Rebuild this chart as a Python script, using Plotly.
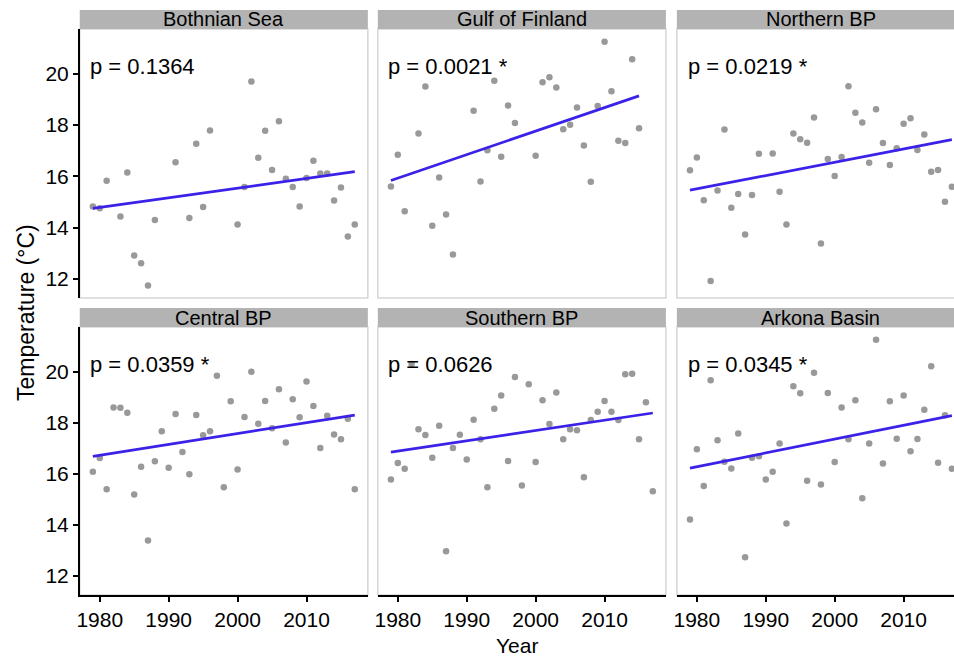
import plotly.graph_objects as go

W, H = 954, 659
FONT = "Liberation Sans, Arial, sans-serif"

YEARS = list(range(1979, 2018))

REGIONS = ["Bothnian Sea", "Gulf of Finland", "Northern BP",
           "Central BP", "Southern BP", "Arkona Basin"]

BOTHNIAN_SEA = [14.82, 14.75, 15.83, None, 14.43, 16.15, 12.91, 12.61, 11.74, 14.29,
                None, None, 16.55, None, 14.37, 17.27, 14.80, 17.79, None, None,
                None, 14.12, 15.58, 19.70, 16.72, 17.78, 16.25, 18.15, 15.90, 15.58,
                14.82, 15.93, 16.61, 16.11, 16.11, 15.06, 15.56, 13.65, 14.12]
GULF_OF_FINLAND = [15.60, 16.84, 14.64, None, 17.67, 19.51, 14.07, 15.95, 14.51, 12.95,
                   None, None, 18.56, 15.80, 17.02, 19.73, 16.76, 18.76, 18.08, None,
                   None, 16.80, 19.67, 19.87, 19.47, 17.84, 18.01, 18.69, 17.20, 15.79,
                   18.74, 21.25, 19.32, 17.39, 17.30, 20.57, 17.88, None, None]
NORTHERN_BP = [16.24, 16.73, 15.07, 11.91, 15.45, 17.83, 14.77, 15.31, 13.73, 15.27,
               16.88, None, 16.89, 15.40, 14.12, 17.67, 17.45, 17.31, 18.30, 13.38,
               16.68, 16.01, 16.75, 19.52, 18.48, 18.10, 16.53, 18.62, 17.30, 16.44,
               17.10, 18.05, 18.27, 17.03, 17.63, 16.18, 16.25, 15.01, 15.59]
CENTRAL_BP = [16.08, 16.62, 15.39, 18.60, 18.59, 18.39, 15.19, 16.27, 13.39, 16.49,
              17.67, 16.24, 18.34, 16.85, 15.98, 18.30, 17.51, 17.67, 19.84, 15.47,
              18.84, 16.17, 18.22, 20.00, 17.96, 18.85, 17.78, 19.31, 17.22, 18.92,
              18.21, 19.61, 18.65, 17.01, 18.27, 17.54, 17.35, 18.16, 15.39]
SOUTHERN_BP = [15.78, 16.42, 16.20, 20.30, 17.74, 17.52, 16.63, 17.88, 12.96, 17.01,
               17.53, 16.56, 18.12, 17.35, 15.47, 18.55, 19.07, 16.50, 19.79, 15.54,
               19.51, 16.46, 18.88, 17.95, 19.18, 17.35, 17.74, 17.70, 15.86, 18.11,
               18.43, 18.85, 18.43, 18.11, 19.90, 19.92, 17.35, 18.80, 15.31]
ARKONA_BASIN = [14.21, 16.96, 15.52, 19.66, 17.31, 16.47, 16.21, 17.58, 12.73, 16.63,
                16.69, 15.78, 16.08, 17.19, 14.05, 19.43, 19.15, 15.73, 19.96, 15.58,
                19.16, 16.46, 18.60, 17.35, 18.88, 15.04, 17.19, 21.25, 16.40, 18.84,
                17.37, 19.07, 16.88, 17.36, 18.51, 20.21, 16.43, 18.29, 16.20]

SERIES = [BOTHNIAN_SEA, GULF_OF_FINLAND, NORTHERN_BP, CENTRAL_BP, SOUTHERN_BP, ARKONA_BASIN]

P_LABELS = ["p = 0.1364", "p = 0.0021 *", "p = 0.0219 *",
            "p = 0.0359 *", "p = 0.0626", "p = 0.0345 *"]

TREND_YEARS = [[1979, 2017], [1979, 2015], [1979, 2017],
               [1979, 2017], [1979, 2017], [1979, 2017]]
TREND_VALUES = [[14.75, 16.18], [15.84, 19.14], [15.46, 17.43],
                [16.68, 18.30], [16.85, 18.38], [16.22, 18.28]]

Y_TICKS = [12, 14, 16, 18, 20]
X_TICKS = [1980, 1990, 2000, 2010]

# layout geometry (pixels in the 954x659 window)
COLS_PX = [(77, 366), (376, 665), (676, 965)]
ROWS_PX = [(29, 298), (327, 595)]
STRIPS_PX = [(10, 29), (308, 327)]
X_RANGE = [1977.1, 2018.9]
Y_RANGE = [11.25, 21.75]


def fx(px):
    return px / W


def fy(py):
    return 1 - py / H


fig = go.Figure()
shapes = []
annotations = []

for i, (name, vals) in enumerate(zip(REGIONS, SERIES)):
    r, c = divmod(i, 3)
    n = "" if i == 0 else str(i + 1)
    xa, ya = "x" + n, "y" + n
    x0, x1 = COLS_PX[c]
    y0, y1 = ROWS_PX[r]
    s0, s1 = STRIPS_PX[r]
    x1_clip = min(x1, W)
    span = X_RANGE[1] - X_RANGE[0]
    xr = [X_RANGE[0], X_RANGE[0] + span * (x1_clip - x0) / (x1 - x0)]

    fig.add_trace(go.Scatter(
        x=YEARS, y=vals, mode="markers", xaxis=xa, yaxis=ya,
        marker=dict(size=6.5, color="rgba(135,135,135,0.85)", line=dict(width=0)),
        showlegend=False, hoverinfo="skip"))
    fig.add_trace(go.Scatter(
        x=TREND_YEARS[i], y=TREND_VALUES[i], mode="lines", xaxis=xa, yaxis=ya,
        line=dict(color="#3B22E8", width=2.7),
        showlegend=False, hoverinfo="skip"))

    bottom = r == 1
    left = c == 0
    fig.layout["xaxis" + n] = dict(
        domain=[fx(x0), min(1.0, fx(x1_clip))], range=xr, anchor=ya,
        showgrid=False, zeroline=False,
        showline=bottom, linecolor="black", linewidth=1.5,
        ticks="outside" if bottom else "", ticklen=5, tickwidth=1.5, tickcolor="black",
        tickvals=X_TICKS, showticklabels=bottom,
        tickfont=dict(family=FONT, size=21, color="black"))
    fig.layout["yaxis" + n] = dict(
        domain=[fy(y1), fy(y0)], range=Y_RANGE, anchor=xa,
        showgrid=False, zeroline=False,
        showline=left, linecolor="black", linewidth=1.5,
        ticks="outside" if left else "", ticklen=5, tickwidth=1.5, tickcolor="black",
        tickvals=Y_TICKS, showticklabels=left,
        tickfont=dict(family=FONT, size=21, color="black"))

    shapes.append(dict(type="rect", xref="paper", yref="paper",
                       x0=fx(x0), x1=fx(x1), y0=fy(y1), y1=fy(y0),
                       line=dict(color="#D6D6D6", width=1.5), layer="below"))
    shapes.append(dict(type="rect", xref="paper", yref="paper",
                       x0=fx(x0), x1=fx(x1), y0=fy(s1), y1=fy(s0),
                       fillcolor="#B3B3B3", line=dict(width=0), layer="below"))
    annotations.append(dict(text=name, xref="paper", yref="paper",
                            x=fx((x0 + x1) / 2), y=fy((s0 + s1) / 2),
                            xanchor="center", yanchor="middle", showarrow=False,
                            font=dict(family=FONT, size=20, color="black")))
    annotations.append(dict(text=P_LABELS[i], xref=xa, yref=ya,
                            x=1978.5, y=20.3, xanchor="left", yanchor="middle",
                            showarrow=False, borderpad=0,
                            font=dict(family=FONT, size=22, color="black")))

annotations.append(dict(text="Temperature (\u00b0C)", xref="paper", yref="paper",
                        x=fx(23), y=fy(312), textangle=-90,
                        xanchor="center", yanchor="middle", showarrow=False,
                        font=dict(family=FONT, size=23, color="black")))
annotations.append(dict(text="Year", xref="paper", yref="paper",
                        x=fx(516), y=fy(645), xanchor="center", yanchor="middle",
                        showarrow=False, font=dict(family=FONT, size=21, color="black")))

fig.update_layout(
    width=W, height=H,
    margin=dict(l=0, r=0, t=0, b=0),
    paper_bgcolor="white", plot_bgcolor="rgba(0,0,0,0)",
    shapes=shapes, annotations=annotations,
    font=dict(family=FONT, color="black"),
)

# remove the default page margin so the figure fills the 954x659 window exactly
fig.write_html("out.html",
               config={"displayModeBar": False},
               post_script="document.body.style.margin='0';"
                           "document.body.style.overflow='hidden';")
